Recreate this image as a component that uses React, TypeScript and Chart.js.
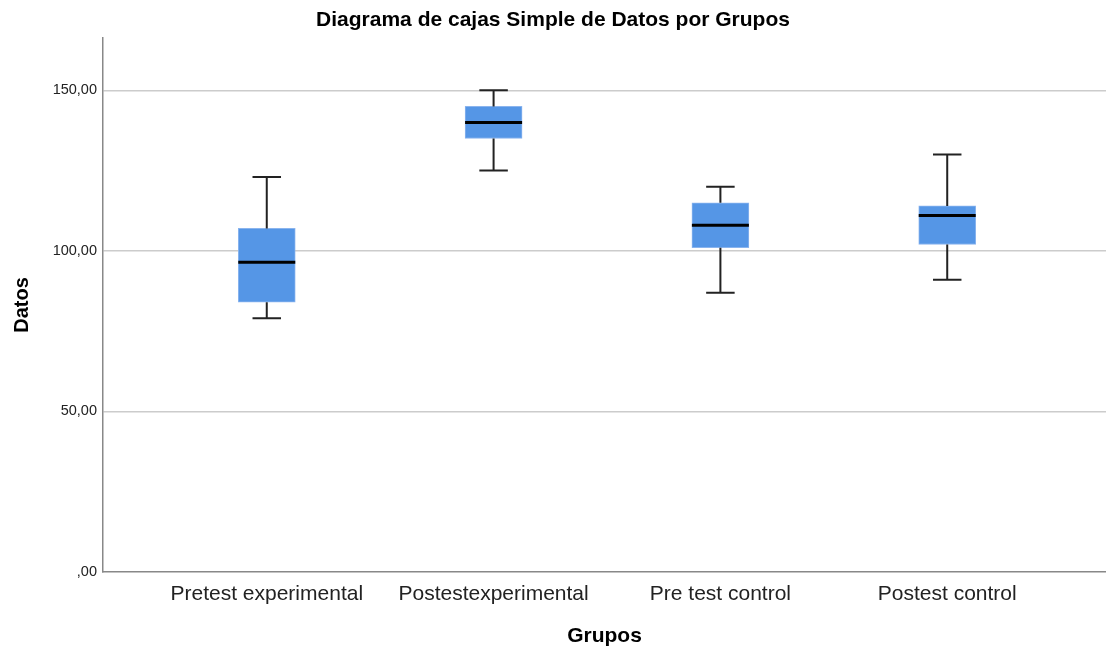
import React, { useEffect, useRef } from "react";
import { Chart, registerables } from "chart.js";

Chart.register(...registerables);

const categories = ["Pretest experimental", "Postestexperimental", "Pre test control", "Postest control"];
const whiskerMin = [79, 125, 87, 91];
const q1 = [84, 135, 101, 102];
const median = [96.5, 140, 108, 111];
const q3 = [107, 145, 115, 114];
const whiskerMax = [123, 150, 120, 130];
const yTicks = [0, 50, 100, 150];
const yMax = 166.3;

const FONT = "'Liberation Sans', Arial, sans-serif";
const fmt = (v: number) => (v === 0 ? ",00" : v.toFixed(2).replace(".", ","));

const boxPlugin = {
  id: "boxExtras",
  afterDatasetsDraw(chart: any) {
    const { ctx, scales } = chart;
    const xs = scales.x;
    const ys = scales.y;
    const meta = chart.getDatasetMeta(0);
    ctx.save();
    categories.forEach((_, i) => {
      const bar = meta.data[i];
      const cx = xs.getPixelForValue(i);
      const half = bar ? bar.width / 2 : 28;
      const capHalf = half / 2;
      const yMin = ys.getPixelForValue(whiskerMin[i]);
      const yQ1 = ys.getPixelForValue(q1[i]);
      const yQ3 = ys.getPixelForValue(q3[i]);
      const yMaxP = ys.getPixelForValue(whiskerMax[i]);
      const yMed = ys.getPixelForValue(median[i]);
      ctx.strokeStyle = "#222222";
      ctx.lineWidth = 2;
      ctx.beginPath();
      ctx.moveTo(cx, yQ3);
      ctx.lineTo(cx, yMaxP);
      ctx.moveTo(cx - capHalf, yMaxP);
      ctx.lineTo(cx + capHalf, yMaxP);
      ctx.moveTo(cx, yQ1);
      ctx.lineTo(cx, yMin);
      ctx.moveTo(cx - capHalf, yMin);
      ctx.lineTo(cx + capHalf, yMin);
      ctx.stroke();
      ctx.strokeStyle = "#000000";
      ctx.lineWidth = 3;
      ctx.beginPath();
      ctx.moveTo(cx - half, yMed);
      ctx.lineTo(cx + half, yMed);
      ctx.stroke();
    });
    ctx.restore();
  },
};

export default function App() {
  const ref = useRef<HTMLCanvasElement>(null);
  useEffect(() => {
    if (!ref.current) return;
    const chart = new Chart(ref.current, {
      type: "bar",
      data: {
        datasets: [
          {
            data: categories.map((_, i) => ({ x: i, y: [q1[i], q3[i]] })) as any,
            backgroundColor: "#5596e6",
            borderColor: "#8ab4ee",
            borderWidth: 1,
            borderSkipped: false,
            barThickness: 57,
          },
        ],
      },
      options: {
        animation: false,
        responsive: false,
        maintainAspectRatio: false,
        layout: { padding: 0 },
        plugins: {
          legend: { display: false },
          tooltip: { enabled: false },
          title: {
            display: true,
            text: "Diagrama de cajas Simple de Datos por Grupos",
            color: "#000000",
            font: { family: FONT, size: 21, weight: "bold" },
            padding: { top: 8, bottom: 4.8 },
          },
        },
        scales: {
          x: {
            type: "linear",
            offset: false,
            min: -0.722,
            max: 3.7,
            afterBuildTicks: (scale: any) => {
              scale.ticks = categories.map((_, i) => ({ value: i }));
            },
            afterFit: (scale: any) => {
              scale.height = 78;
            },
            grid: { display: false, drawTicks: false, offset: false },
            border: { display: true, color: "#888888", width: 1.5 },
            ticks: {
              padding: 9.4,
              color: "#222222",
              font: { family: FONT, size: 21 },
              callback: (v: any) => categories[v as number] ?? "",
              maxRotation: 0,
              autoSkip: false,
            },
            title: {
              display: true,
              text: "Grupos",
              color: "#000000",
              font: { family: FONT, size: 21, weight: "bold" },
              padding: { top: 0, bottom: 1.4 },
            },
          },
          y: {
            min: 0,
            max: yMax,
            afterBuildTicks: (scale: any) => {
              scale.ticks = yTicks.map((v) => ({ value: v }));
            },
            afterFit: (scale: any) => {
              scale.width = 103;
            },
            grid: {
              drawTicks: false,
              color: (c: any) => (c.tick && c.tick.value === 0 ? "rgba(0,0,0,0)" : "#cccccc"),
              lineWidth: 1.5,
            },
            border: { display: true, color: "#888888", width: 1.5 },
            ticks: {
              padding: 6,
              color: "#222222",
              font: { family: FONT, size: 14.5 },
              callback: (v: any) => fmt(v as number),
            },
            title: {
              display: true,
              text: "Datos",
              color: "#000000",
              font: { family: FONT, size: 20, weight: "bold" },
              padding: { top: 10, bottom: 0 },
            },
          },
        },
      },
      plugins: [boxPlugin],
    });
    return () => chart.destroy();
  }, []);
  return (
    <div style={{ position: "absolute", left: 0, top: 0, width: 1106, height: 650, background: "#ffffff" }}>
      <canvas ref={ref} width={1106} height={650} style={{ width: 1106, height: 650 }} />
    </div>
  );
}
